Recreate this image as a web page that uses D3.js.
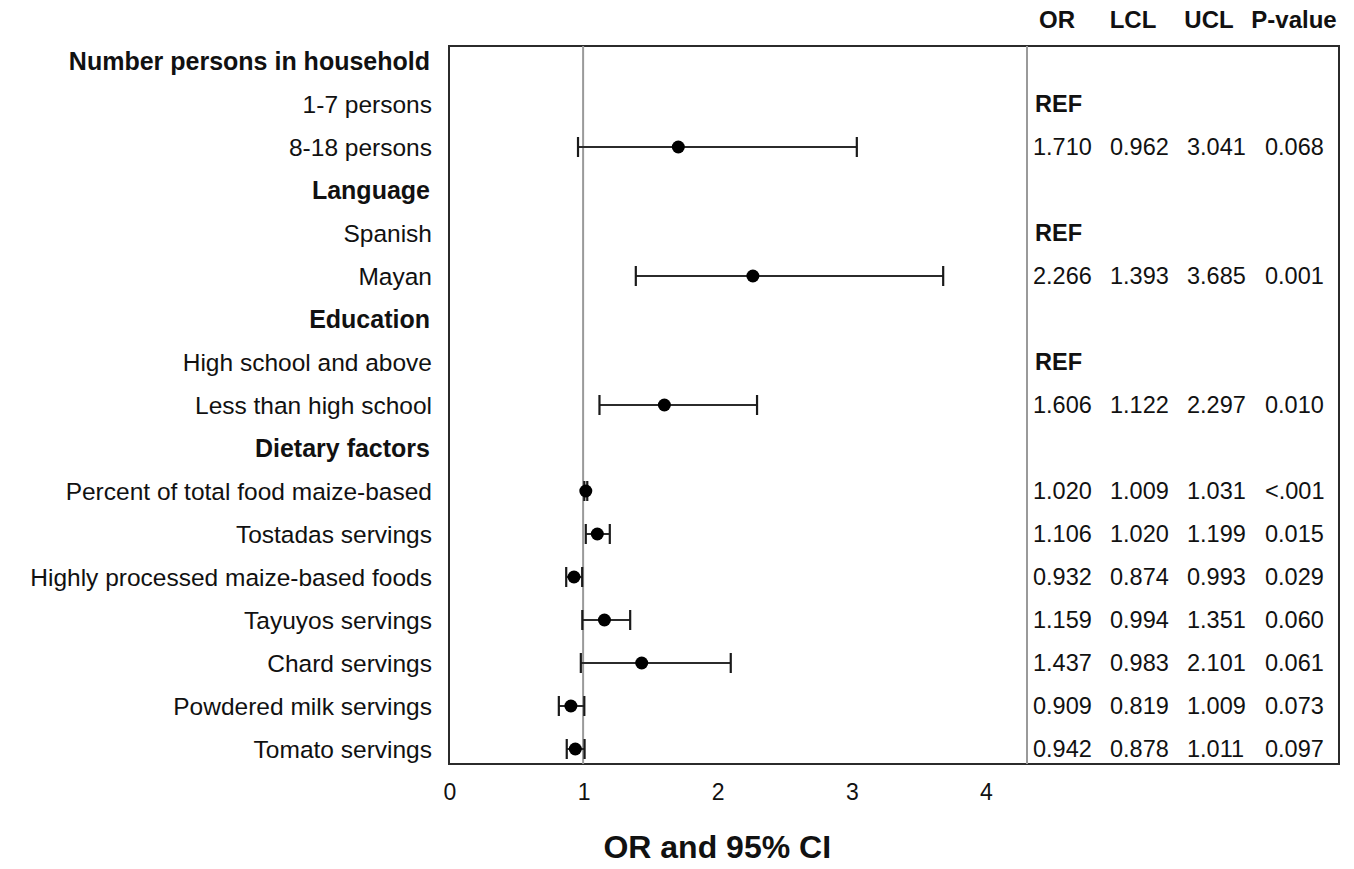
<!DOCTYPE html>
<html><head><meta charset="utf-8">
<script src="https://cdn.jsdelivr.net/npm/d3@7"></script>
<style>body{margin:0;background:#fff;} text{font-family:"Liberation Sans",Arial,sans-serif;}</style>
</head><body><svg id="c" width="1354" height="869"></svg>
<script>
const rowLabels = ["Number persons in household","1-7 persons","8-18 persons","Language","Spanish","Mayan","Education","High school and above","Less than high school","Dietary factors","Percent of total food maize-based","Tostadas servings","Highly processed maize-based foods","Tayuyos servings","Chard servings","Powdered milk servings","Tomato servings"];
const rowType = ["header","ref","est","header","ref","est","header","ref","est","header","est","est","est","est","est","est","est"];
const orVals  = [null,null,1.710,null,null,2.266,null,null,1.606,null,1.020,1.106,0.932,1.159,1.437,0.909,0.942];
const lclVals = [null,null,0.962,null,null,1.393,null,null,1.122,null,1.009,1.020,0.874,0.994,0.983,0.819,0.878];
const uclVals = [null,null,3.041,null,null,3.685,null,null,2.297,null,1.031,1.199,0.993,1.351,2.101,1.009,1.011];
const pVals   = [null,null,"0.068",null,null,"0.001",null,null,"0.010",null,"<.001","0.015","0.029","0.060","0.061","0.073","0.097"];
const tableHeaders = ["OR","LCL","UCL","P-value"];
const xTicks = [0,1,2,3,4];
const refValue = 1;

const svg = d3.select("#c");
const frameL = 449, frameR = 1339, frameT = 46, frameB = 764, sepX = 1027;
const x = d3.scaleLinear().domain([0, 4.31]).range([frameL, sepX]);
const y = d3.scalePoint().domain(d3.range(rowLabels.length)).range([61, 749]);

// frame
svg.append("rect").attr("x",frameL).attr("y",frameT).attr("width",frameR-frameL).attr("height",frameB-frameT)
  .attr("fill","none").attr("stroke","#2b2b2b").attr("stroke-width",2);
// separator
svg.append("line").attr("x1",sepX).attr("x2",sepX).attr("y1",frameT).attr("y2",frameB).attr("stroke","#9a9a9a").attr("stroke-width",2);
// reference line
svg.append("line").attr("x1",x(refValue)).attr("x2",x(refValue)).attr("y1",frameT).attr("y2",frameB).attr("stroke","#9a9a9a").attr("stroke-width",2);

// row labels
svg.append("g").selectAll("text").data(rowLabels).join("text")
  .attr("x",(d,i)=> rowType[i]==="header"?430:432)
  .attr("y",(d,i)=>y(i)).attr("dy","0.35em").attr("text-anchor","end")
  .attr("font-size",(d,i)=>rowType[i]==="header"?25:24.5).attr("font-weight",(d,i)=>rowType[i]==="header"?"bold":"normal")
  .attr("fill","#111").text(d=>d);

// CI and points
const est = d3.range(rowLabels.length).filter(i=>rowType[i]==="est");
const g = svg.append("g");
g.selectAll("line.ci").data(est).join("line").attr("class","ci")
  .attr("x1",i=>x(lclVals[i])).attr("x2",i=>x(uclVals[i])).attr("y1",i=>y(i)).attr("y2",i=>y(i))
  .attr("stroke","#2b2b2b").attr("stroke-width",2);
g.selectAll("line.capl").data(est).join("line").attr("class","capl")
  .attr("x1",i=>x(lclVals[i])).attr("x2",i=>x(lclVals[i])).attr("y1",i=>y(i)-10).attr("y2",i=>y(i)+10)
  .attr("stroke","#1a1a1a").attr("stroke-width",2.2);
g.selectAll("line.capu").data(est).join("line").attr("class","capu")
  .attr("x1",i=>x(uclVals[i])).attr("x2",i=>x(uclVals[i])).attr("y1",i=>y(i)-10).attr("y2",i=>y(i)+10)
  .attr("stroke","#1a1a1a").attr("stroke-width",2.2);
g.selectAll("circle").data(est).join("circle")
  .attr("cx",i=>x(orVals[i])).attr("cy",i=>y(i)).attr("r",6.5).attr("fill","#000");

// x axis tick labels
svg.append("g").selectAll("text").data(xTicks).join("text")
  .attr("x",d=>x(d)+1).attr("y",792).attr("dy","0.35em").attr("text-anchor","middle")
  .attr("font-size",23).attr("fill","#111").text(d=>d);
svg.append("text").attr("x",x(2)).attr("y",847).attr("dy","0.35em").attr("text-anchor","middle")
  .attr("font-size",32).attr("font-weight","bold").attr("fill","#111").text("OR and 95% CI");

// table headers
const hdrX = [1057,1133,1209,1294];
svg.append("g").selectAll("text").data(tableHeaders).join("text")
  .attr("x",(d,i)=>hdrX[i]).attr("y",20).attr("dy","0.35em").attr("text-anchor","middle")
  .attr("font-size",24).attr("font-weight","bold").attr("fill","#111").text(d=>d);

// table body
const colX = [1033,1110,1187,1265];
const tg = svg.append("g");
d3.range(rowLabels.length).forEach(i=>{
  if(rowType[i]==="ref"){
    tg.append("text").attr("x",colX[0]+2).attr("y",y(i)).attr("dy","0.35em").attr("font-size",23.5)
      .attr("font-weight","bold").attr("fill","#111").text("REF");
  } else if(rowType[i]==="est"){
    const vals=[orVals[i].toFixed(3),lclVals[i].toFixed(3),uclVals[i].toFixed(3),pVals[i]];
    vals.forEach((v,j)=>{
      tg.append("text").attr("x",colX[j]).attr("y",y(i)).attr("dy","0.35em").attr("font-size",23.5)
        .attr("fill","#111").text(v);
    });
  }
});
</script></body></html>
